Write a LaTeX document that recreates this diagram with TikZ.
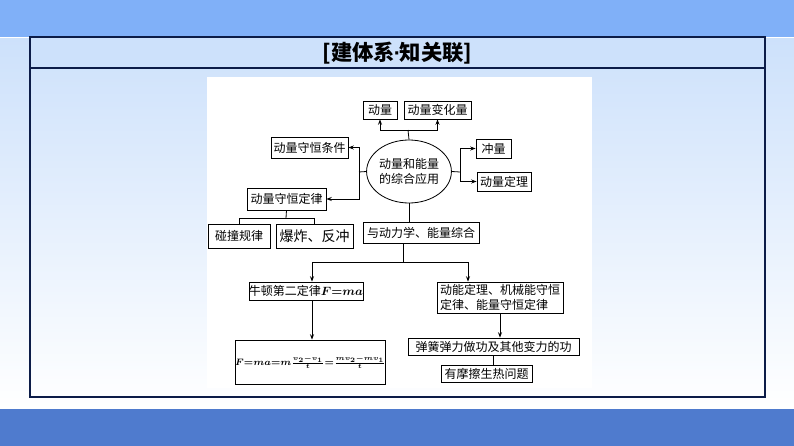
\documentclass[tikz,border=0pt]{standalone}
\usepackage{fontspec}
\newfontfamily\cjk{Noto Sans CJK SC}
\newfontfamily\latin{Liberation Sans}
\usetikzlibrary{arrows.meta,shapes.geometric,calc}
\definecolor{bandtop}{RGB}{128,176,248}
\definecolor{bandbot}{RGB}{79,123,206}
\definecolor{titlefill}{RGB}{205,225,251}
\definecolor{framecol}{RGB}{12,28,72}
\newcommand{\massformula}{$F{=}ma{=}m{v_2{-}v_1\over t}{=}{mv_2{-}mv_1\over t}$}
\begin{document}
\begin{tikzpicture}
[x=0.75pt,y=-0.75pt,
 info box/.style={draw,inner sep=0pt,line width=0.6pt,font=\cjk\fontsize{9}{11}\selectfont},
 link/.style={line width=0.6pt},
 arrow link/.style={link,-{Stealth[length=4pt,width=3pt]}}]
\useasboundingbox (0,0) rectangle (794,446);
% background and frame
\shade[top color=titlefill,bottom color=white] (0,38) rectangle (794,409);
\fill[bandtop] (0,0) rectangle (794,37);
\fill[bandbot] (0,409) rectangle (794,446);
\fill[titlefill] (30,37) rectangle (765,68);
\draw[framecol,line width=0.9pt] (30,37) rectangle (765,397);
\draw[framecol,line width=0.9pt] (30,68) -- (765,68);
\node[font=\cjk\bfseries\fontsize{16}{18}\selectfont] (title) at (397.5,53) {[建体系{\latin\bfseries\kern-1pt·\kern-1pt}知关联]};
\fill[white] (207,77) rectangle (592,388);
% upper part
\node[info box,ellipse,minimum width=58.5pt,minimum height=47.25pt,align=center] (ctr) at (409,171.5) {动量和能量\\的综合应用};
\node[info box,minimum width=25.5pt,minimum height=13.5pt] (mom) at (380,110) {动量};
\node[info box,minimum width=50.25pt,minimum height=13.5pt] (dmom) at (437.5,110) {动量变化量};
\node[info box,minimum width=26.25pt,minimum height=14.25pt] (impulse) at (493.5,148.5) {冲量};
\node[info box,minimum width=40.5pt,minimum height=14.25pt] (thm) at (504,181.5) {动量定理};
\node[info box,minimum width=57.75pt,minimum height=15.75pt] (cond) at (309.5,147.5) {动量守恒条件};
\node[info box,minimum width=59.25pt,minimum height=16.5pt] (law) at (286.5,199) {动量守恒定律};
\node[info box,minimum width=46.5pt,minimum height=18pt] (collide) at (239,236) {碰撞规律};
\node[info box,minimum width=57.75pt,minimum height=18pt,font=\cjk\fontsize{10.5}{12}\selectfont] (blast) at (314.5,236) {爆炸、反冲};
\node[info box,minimum width=87pt,minimum height=15.75pt] (mixed) at (421,232.5) {与动力学、能量综合};
% lower part
\node[info box,minimum width=82.5pt,minimum height=13.5pt] (newton) at (306,291) {牛顿第二定律{\boldmath$F{=}ma$}};
\node[info box,minimum width=94.5pt,minimum height=23.25pt,align=left] (energy) at (500,297.5) {动能定理、机械能守恒\\定律、能量守恒定律};
\node[info box,minimum width=111.75pt,minimum height=33pt,font=\cjk\fontsize{7.5}{9}\selectfont\boldmath] (formula) at (310.5,362) {\massformula};
\node[info box,minimum width=128.25pt,minimum height=12.75pt] (spring) at (493.5,346.5) {弹簧弹力做功及其他变力的功};
\node[info box,minimum width=68.25pt,minimum height=12.75pt] (friction) at (486.5,373.5) {有摩擦生热问题};
% connectors
\coordinate (jt) at (408,130);
\coordinate (jr) at (460,172);
\coordinate (jl) at (359,172);
\coordinate (jb) at (286,218);
\coordinate (jm) at (403,262);
\draw[link] (ctr.north) -- (jt);
\draw[arrow link] (jt) -| (mom.south);
\draw[arrow link] (jt) -| (dmom.south);
\draw[link] (ctr.east) -- (jr);
\draw[arrow link] (jr) |- (impulse.west);
\draw[arrow link] (jr) |- (thm.west);
\draw[link] (ctr.west) -- (jl);
\draw[arrow link] (jl) |- (cond.east);
\draw[arrow link] (jl) |- (law.east);
\draw[link] (law.south) -- (jb);
\draw[link] (jb) -| (collide.north);
\draw[link] (jb) -| (blast.north);
\draw[link] (ctr.south) -- (ctr.south |- mixed.north);
\draw[link] (jm |- mixed.south) -- (jm);
\draw[arrow link] (jm) -| ($(newton.north)+(6,0)$);
\draw[arrow link] (jm) -| ($(energy.north)+(-32,0)$);
\draw[arrow link] ($(newton.south)+(6,0)$) -- ($(newton.south |- formula.north)+(6,0)$);
\draw[arrow link] (energy.south) -- (energy.south |- spring.north);
\draw[link] (spring.south) -- (spring.south |- friction.north);
\end{tikzpicture}
\end{document}
